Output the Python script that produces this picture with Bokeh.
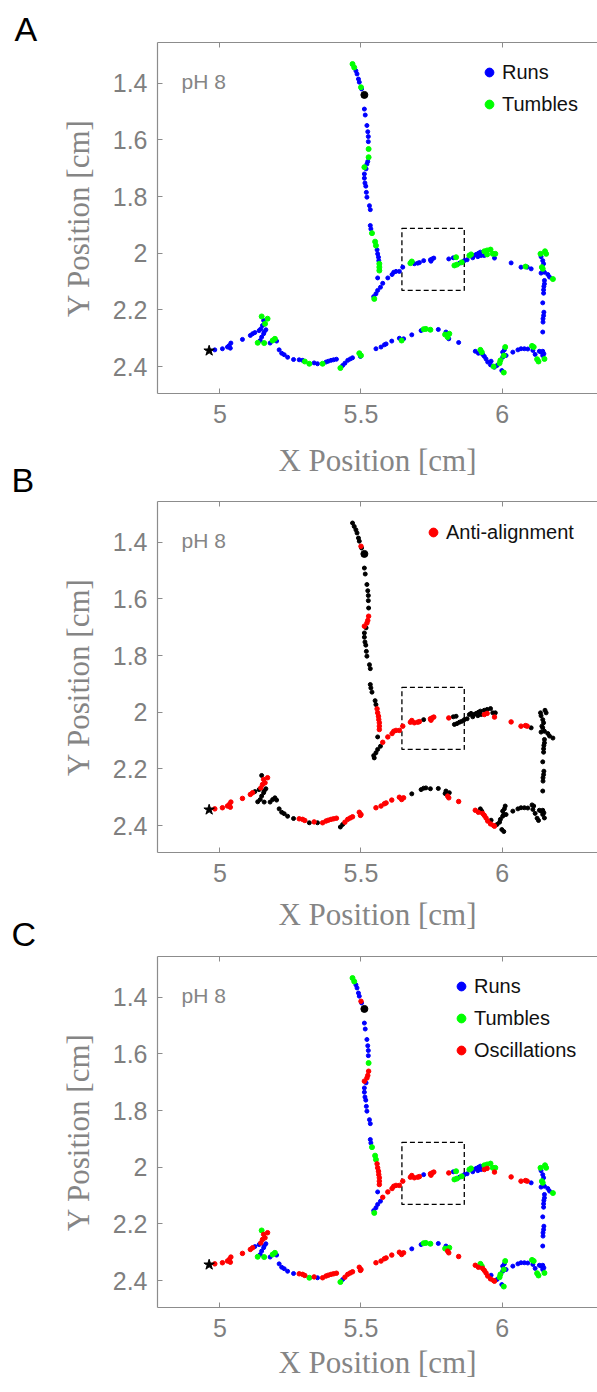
from bokeh.plotting import figure
from bokeh.models import (ColumnDataSource, Range1d, FixedTicker, LinearAxis, Legend,
                          LegendItem, Label, Title, CustomJSTickFormatter)
from bokeh.layouts import column
from bokeh.embed import file_html
from bokeh.resources import INLINE

# ---------------- data (cm) ----------------
traj_x = [4.982, 5.009, 5.027, 5.033, 5.039, 5.037, 5.080, 5.108, 5.116, 5.124,
          5.139, 5.145, 5.151, 5.155, 5.160, 5.169, 5.148, 5.163, 5.157, 5.155,
          5.148, 5.143, 5.134, 5.157, 5.178, 5.187, 5.195, 5.201, 5.210, 5.219,
          5.228, 5.240, 5.261, 5.281, 5.293, 5.301, 5.317, 5.334, 5.346, 5.364,
          5.376, 5.384, 5.394, 5.403, 5.413, 5.427, 5.435, 5.443, 5.453, 5.462,
          5.470, 5.494, 5.500, 5.498, 5.553, 5.571, 5.583, 5.589, 5.609, 5.636,
          5.644, 5.651, 5.680, 5.713, 5.722, 5.730, 5.746, 5.774, 5.801, 5.798,
          5.813, 5.807, 5.811, 5.846, 5.905, 5.923, 5.916, 5.928, 5.931, 5.937,
          5.943, 5.949, 5.961, 5.959, 5.970, 5.973, 5.982, 5.991, 5.994, 6.002,
          6.006, 6.002, 6.008, 6.011, 6.014, 5.999, 6.006, 6.038, 6.056, 6.067,
          6.079, 6.091, 6.106, 6.112, 6.109, 6.117, 6.124, 6.129, 6.132, 6.138,
          6.144, 6.148, 6.150, 6.144, 6.144, 6.145, 6.145, 6.147, 6.148, 6.144,
          6.147, 6.147, 6.148, 6.150, 6.150, 6.180, 6.168, 6.162, 6.150, 6.138,
          6.144, 6.141, 6.147, 6.144, 6.138, 6.136, 6.152, 6.156, 6.103, 6.089,
          6.083, 6.067, 6.032, 5.973, 5.976, 5.967, 5.959, 5.947, 5.937, 5.923,
          5.916, 5.908, 5.900, 5.890, 5.884, 5.947, 5.937, 5.926, 5.914, 5.896,
          5.876, 5.866, 5.857, 5.849, 5.840, 5.831, 5.837, 5.827, 5.811, 5.758,
          5.752, 5.746, 5.748, 5.722, 5.707, 5.701, 5.689, 5.680, 5.675, 5.648,
          5.636, 5.624, 5.616, 5.610, 5.595, 5.577, 5.569, 5.559, 5.553, 5.545,
          5.547, 5.559, 5.565, 5.565, 5.565, 5.563, 5.562, 5.559, 5.557, 5.553,
          5.550, 5.539, 5.535, 5.533, 5.533, 5.530, 5.521, 5.519, 5.517, 5.514,
          5.512, 5.512, 5.518, 5.512, 5.521, 5.524, 5.527, 5.527, 5.526, 5.526,
          5.524, 5.521, 5.515, 5.512, 5.502, 5.500, 5.494, 5.491, 5.486, 5.482,
          5.476, 5.470]
traj_y = [2.341, 2.337, 2.331, 2.326, 2.317, 2.335, 2.304, 2.290, 2.284, 2.280,
          2.273, 2.267, 2.255, 2.237, 2.249, 2.231, 2.223, 2.270, 2.278, 2.284,
          2.296, 2.308, 2.316, 2.317, 2.317, 2.308, 2.302, 2.310, 2.341, 2.353,
          2.358, 2.367, 2.375, 2.376, 2.378, 2.382, 2.390, 2.387, 2.390, 2.390,
          2.384, 2.381, 2.378, 2.376, 2.374, 2.405, 2.396, 2.388, 2.378, 2.373,
          2.369, 2.353, 2.361, 2.364, 2.337, 2.331, 2.323, 2.320, 2.310, 2.300,
          2.308, 2.302, 2.288, 2.273, 2.268, 2.267, 2.270, 2.269, 2.278, 2.287,
          2.284, 2.296, 2.302, 2.315, 2.346, 2.341, 2.353, 2.349, 2.357, 2.364,
          2.373, 2.384, 2.381, 2.394, 2.400, 2.402, 2.396, 2.388, 2.378, 2.367,
          2.361, 2.349, 2.341, 2.331, 2.361, 2.414, 2.421, 2.349, 2.341, 2.337,
          2.337, 2.338, 2.327, 2.331, 2.343, 2.357, 2.374, 2.382, 2.346, 2.349,
          2.346, 2.355, 2.373, 2.361, 2.278, 2.243, 2.231, 2.220, 2.208, 2.175,
          2.141, 2.129, 2.117, 2.108, 2.096, 2.091, 2.084, 2.075, 2.067, 2.070,
          2.055, 2.049, 2.037, 2.026, 2.012, 2.002, 1.993, 2.002, 2.055, 2.049,
          2.047, 2.049, 2.034, 2.017, 2.002, 2.002, 1.987, 1.990, 1.993, 1.996,
          2.000, 2.004, 2.008, 2.004, 2.008, 2.004, 2.008, 2.008, 2.012, 2.016,
          2.023, 2.026, 2.032, 2.035, 2.040, 2.043, 2.014, 2.016, 2.020, 2.017,
          2.020, 2.023, 2.028, 2.026, 2.033, 2.035, 2.037, 2.029, 2.035, 2.049,
          2.064, 2.064, 2.067, 2.075, 2.087, 2.106, 2.120, 2.131, 2.143, 2.153,
          2.161, 2.087, 2.061, 2.049, 2.037, 2.026, 2.014, 2.002, 1.988, 1.973,
          1.959, 1.929, 1.914, 1.902, 1.846, 1.832, 1.802, 1.785, 1.763, 1.752,
          1.735, 1.720, 1.702, 1.696, 1.685, 1.676, 1.661, 1.632, 1.606, 1.588,
          1.571, 1.549, 1.512, 1.491, 1.420, 1.414, 1.396, 1.385, 1.367, 1.356,
          1.344, 1.332]
# motion state per point: R = run, T = tumble
motion = ("RRRRRRRRRR" "RRRRTTTRRR" "RRTTRTTRRR" "RRRRRTTRRT" "RRRRRTRRRR"
          "RTTRRRRRRR" "TRRRTTTRRT" "TTRRRTRTRR" "RRRRTRRTTR" "TRRTRRTRRR"
          "RRTTRRTTRR" "RRTRRRRRRR" "RRRRRTRRRR" "TTRRRTTTRR" "TRRRTTTTTR"
          "RRRTTTRRRR" "RRTRTTTRRR" "RRRRRRRTTR" "RRRRRRRRRR" "TRTTTRRRRT"
          "TTRRRRRRRR" "RRRTRRTTRR" "RRRRRTRRRR" "TT")
# anti-alignment / oscillation flag per point
anti = ("1111111110" "0111110000" "0000000000" "0001110101" "1111100111"
        "1111111111" "1100000000" "0111101011" "1101110000" "0000000000"
        "0000000000" "0000000000" "0000000000" "0000000001" "1111000000"
        "0000011000" "0000000011" "1110111111" "1111110000" "0011111110"
        "0000000000" "0001111000" "0000010000" "00")

start_x, start_y = [4.962], [2.344]
end_x, end_y = [5.512], [1.441]
box_x = [5.645, 5.866]
box_y = [1.912, 2.131]

x_ticks = [5, 5.5, 6]
y_ticks = [1.4, 1.6, 1.8, 2.0, 2.2, 2.4]
x_lim = [4.779, 6.338]
y_lim = [1.256, 2.495]
panel_letters = ["A", "B", "C"]


def subset(cond):
    idx = [i for i in range(len(traj_x)) if cond(i)]
    return ColumnDataSource(dict(x=[traj_x[i] for i in idx], y=[traj_y[i] for i in idx]))


GREY = "#858585"
AXC = "#8c8c8c"
FRAME_W, FRAME_H = 440, 351
LETTER_FONT = "34px"


def base(top, bottom, xlabel_standoff, letter_below=None):
    p = figure(frame_width=FRAME_W, frame_height=FRAME_H,
               x_range=Range1d(x_lim[0], x_lim[1]), y_range=Range1d(y_lim[1], y_lim[0]),
               output_backend="svg", toolbar_location=None,
               min_border_left=157, min_border_right=0,
               min_border_top=top, min_border_bottom=bottom,
               x_axis_label="X Position [cm]", y_axis_label="Y Position [cm]")
    p.outline_line_color = None
    p.grid.visible = False
    p.background_fill_color = "white"
    p.border_fill_color = "white"
    fmt = CustomJSTickFormatter(code="return String(Math.round(tick*10)/10);")
    p.xaxis.ticker = FixedTicker(ticks=x_ticks)
    p.yaxis.ticker = FixedTicker(ticks=y_ticks)
    p.xaxis.formatter = fmt
    p.yaxis.formatter = fmt
    for ax in (p.xaxis[0], p.yaxis[0]):
        ax.axis_line_color = AXC
        ax.axis_line_width = 1.2
        ax.major_tick_line_color = AXC
        ax.major_tick_in = 5
        ax.major_tick_out = 0
        ax.minor_tick_line_color = None
        ax.major_label_text_color = "#7f7f7f"
        ax.major_label_text_font = "Liberation Sans"
        ax.major_label_text_font_size = "25px"
        ax.axis_label_text_font = "Liberation Serif"
        ax.axis_label_text_font_style = "normal"
        ax.axis_label_text_color = GREY
        ax.axis_label_text_font_size = "31px"
    p.xaxis.major_label_standoff = 11
    p.xaxis.axis_label_standoff = xlabel_standoff
    p.yaxis.major_label_standoff = 10
    p.yaxis.axis_label_standoff = 14
    top_ax = LinearAxis(ticker=FixedTicker(ticks=x_ticks), major_label_text_font_size="0px",
                        major_label_text_color=None,
                        major_tick_in=5, major_tick_out=0, major_label_standoff=0,
                        axis_line_color=AXC, axis_line_width=1.2, major_tick_line_color=AXC,
                        minor_tick_line_color=None)
    p.add_layout(top_ax, "above")
    p.add_layout(Label(x=24, y=312, x_units="screen", y_units="screen", text="pH 8",
                       text_font="Liberation Sans", text_font_size="21px",
                       text_color=GREY, text_baseline="alphabetic"))
    if letter_below is not None:
        p.add_layout(Title(text=letter_below, align="left", offset=-146, vertical_align="top",
                           standoff=-40, text_font="Liberation Sans", text_font_size=LETTER_FONT,
                           text_font_style="normal", text_color="black"), "below")
    p.quad(left=[box_x[0]], right=[box_x[1]], top=[box_y[0]], bottom=[box_y[1]],
           fill_color=None, line_color="black", line_dash="5 3", line_width=1.3)
    return p


def markers(p):
    p.scatter(start_x, start_y, marker="star", size=11, color="black")
    p.scatter(end_x, end_y, marker="circle", size=7, color="black")


def make_legend(p, items, loc):
    lg = Legend(items=items, location=loc, orientation="vertical",
                border_line_color=None, background_fill_alpha=0,
                label_text_font="Liberation Sans", label_text_font_size="20px",
                label_text_color="#111111",
                glyph_width=22, glyph_height=22, label_height=24, label_standoff=2,
                spacing=8, padding=0, margin=0)
    p.add_layout(lg)


# ---------------- panel A ----------------
pa = base(42, 107, 17, letter_below=panel_letters[1])
pa.add_layout(Title(text=panel_letters[0], align="left", offset=-143, vertical_align="bottom",
                    standoff=-10, text_font="Liberation Sans", text_font_size=LETTER_FONT,
                    text_font_style="normal", text_color="black"), "above")
rA_run = pa.scatter("x", "y", source=subset(lambda i: motion[i] == "R"), size=4, color="#0000ff")
rA_tum = pa.scatter("x", "y", source=subset(lambda i: motion[i] == "T"), size=5, color="#00ff00")
markers(pa)
make_legend(pa, [LegendItem(label="Runs", renderers=[rA_run]),
                 LegendItem(label="Tumbles", renderers=[rA_tum])], (321, 277))

# ---------------- panel B ----------------
pb = base(1, 104, 12, letter_below=panel_letters[2])
pb.scatter("x", "y", source=subset(lambda i: anti[i] == "0"), size=4, color="black")
rB_anti = pb.scatter("x", "y", source=subset(lambda i: anti[i] == "1"), size=4.5, color="#ff0000")
markers(pb)
make_legend(pb, [LegendItem(label="Anti-alignment", renderers=[rB_anti])], (265, 308))

# ---------------- panel C ----------------
pc = base(0, 85, 5)
rC_run = pc.scatter("x", "y", source=subset(lambda i: motion[i] == "R" and anti[i] == "0"),
                    size=4, color="#0000ff")
rC_tum = pc.scatter("x", "y", source=subset(lambda i: motion[i] == "T" and anti[i] == "0"),
                    size=5, color="#00ff00")
rC_osc = pc.scatter("x", "y", source=subset(lambda i: anti[i] == "1"), size=4.5, color="#ff0000")
markers(pc)
make_legend(pc, [LegendItem(label="Runs", renderers=[rC_run]),
                 LegendItem(label="Tumbles", renderers=[rC_tum]),
                 LegendItem(label="Oscillations", renderers=[rC_osc])], (293, 245))

page = column(pa, pb, pc, spacing=0)
open("out.html", "w").write(file_html(page, INLINE))
